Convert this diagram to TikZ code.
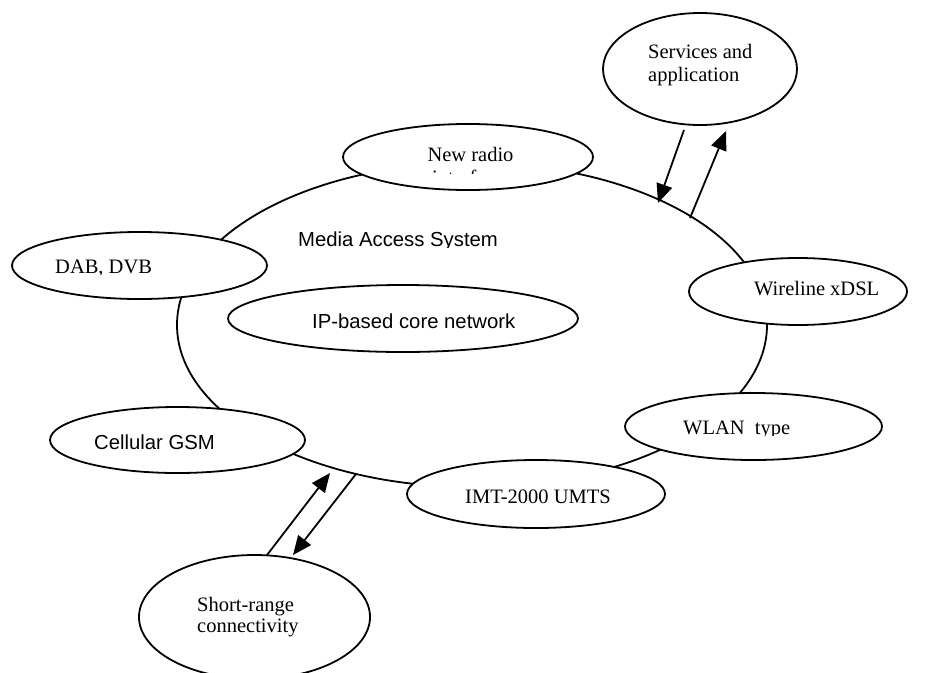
\documentclass[tikz,border=0pt]{standalone}
\usepackage{fontspec}
\setmainfont{Liberation Serif}
\setsansfont{Liberation Sans}
\usetikzlibrary{shapes.geometric,arrows.meta}
\begin{document}
\begin{tikzpicture}[x=1pt,y=-1pt,
  oval/.style={ellipse, draw, line width=1.8pt, fill=white, inner sep=0pt},
  serif/.style={font=\fontsize{20.5}{23.5}\selectfont, anchor=base west, inner sep=0pt},
  sans/.style={font=\sffamily\fontsize{20.3}{23}\selectfont, anchor=base west, inner sep=0pt},
  link/.style={line width=1.8pt, -{Triangle[length=19pt,width=16pt]}}]
\clip (0,0) rectangle (933,672);

% the media access ring and the core network inside it
\node[ellipse, draw, line width=1.8pt, inner sep=0pt, minimum width=590pt, minimum height=324pt] (mas) at (472,325) {};
\node[oval, minimum width=350pt, minimum height=67pt] (ip) at (403,318.5) {};

% access technologies around the ring
\node[oval, minimum width=250pt, minimum height=66pt] (radio) at (468,157) {};
\node[oval, minimum width=194pt, minimum height=112pt] (svc) at (700,69) {};
\node[oval, minimum width=255pt, minimum height=67pt] (dab) at (139.5,265.5) {};
\node[oval, minimum width=218pt, minimum height=67pt] (wire) at (798,291.5) {};
\node[oval, minimum width=257pt, minimum height=67pt] (wlan) at (753.5,426.5) {};
\node[oval, minimum width=255pt, minimum height=66pt] (gsm) at (177.5,440) {};
\node[oval, minimum width=258pt, minimum height=68pt] (imt) at (536,494) {};
\node[oval, minimum width=231pt, minimum height=124pt] (short) at (254.5,617) {};

% labels (text boxes that cut off their lower lines)
\node[serif] (tsvc1) at (648,58) {Services and};
\node[serif] (tsvc2) at (648,81) {application};
\begin{scope}
  \clip (340,120) rectangle (600,173.5);
  \node[serif, anchor=base] (tradio1) at (470.5,161) {New radio};
  \node[serif, anchor=base] (tradio2) at (468,184) {interface};
\end{scope}
\begin{scope}
  \clip (280,220) rectangle (520,247.5);
  \node[sans] (tmas) at (298,246) {Media Access System};
\end{scope}
\node[sans] (tip) at (312,328) {IP-based core network};
\begin{scope}
  \clip (40,240) rectangle (200,274.2);
  \node[serif] (tdab) at (55,273) {DAB, DVB};
\end{scope}
\node[serif] (twire) at (754,295) {Wireline xDSL};
\begin{scope}
  \clip (670,400) rectangle (820,435.5);
  \node[serif] (twlan) at (683,434) {WLAN~~type};
\end{scope}
\node[sans] (tgsm) at (94,449) {Cellular GSM};
\node[serif] (timt) at (465,503) {IMT-2000 UMTS};
\node[serif] (tshort1) at (197,611) {Short-range};
\node[serif] (tshort2) at (197,632) {connectivity};

% two-way links
\coordinate (a1s) at (684,130);
\coordinate (a1e) at (658,203);
\coordinate (a2s) at (690,218);
\coordinate (a2e) at (726,131);
\coordinate (b1s) at (267,555);
\coordinate (b1e) at (330,473);
\coordinate (b2s) at (356,474);
\coordinate (b2e) at (293,555);
\draw[link] (a1s) -- (a1e);
\draw[link] (a2s) -- (a2e);
\draw[link] (b1s) -- (b1e);
\draw[link] (b2s) -- (b2e);
\end{tikzpicture}
\end{document}
